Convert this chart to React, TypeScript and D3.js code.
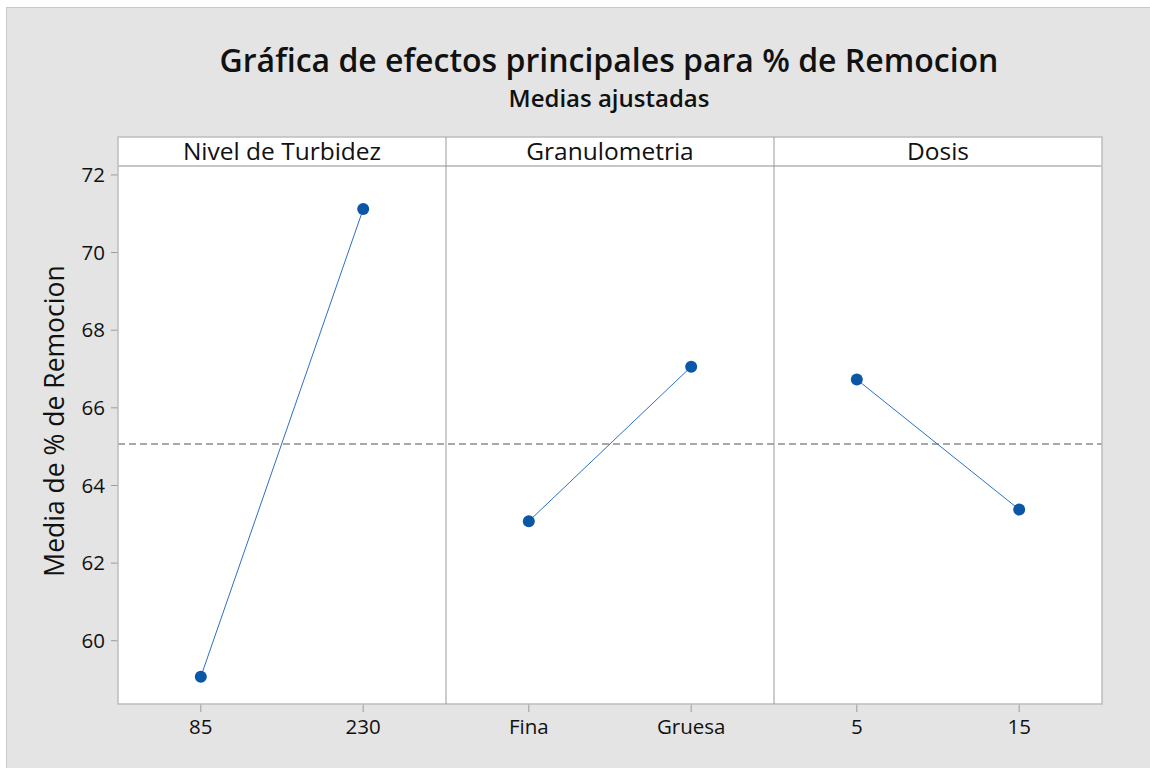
import React from "react";
import * as d3 from "d3";

const title = "Gráfica de efectos principales para % de Remocion";
const subtitle = "Medias ajustadas";
const yLabel = "Media de % de Remocion";
const factors = ["Nivel de Turbidez", "Granulometria", "Dosis"];
const levels = [["85", "230"], ["Fina", "Gruesa"], ["5", "15"]];
const means = [[59.07, 71.12], [63.08, 67.06], [66.73, 63.38]];
const grandMean = 65.07;
const yTicks = [60, 62, 64, 66, 68, 70, 72];

const W = 1150, H = 768;
const left = 118, right = 1102, stripTop = 137, plotTop = 166, plotBottom = 704;
const font = "'Open Sans', 'Noto Sans', sans-serif";

export default function App() {
  const panelW = (right - left) / factors.length;
  const y = d3.scaleLinear().domain([58.37, 72.23]).range([plotBottom, plotTop]);
  const line = d3.line<[number, number]>().x(d => d[0]).y(d => d[1]);
  return (
    <svg width={W} height={H} style={{ position: "absolute", left: 0, top: 0 }} fontFamily={font}>
      <rect x={0} y={0} width={W} height={H} fill="#fff" />
      <rect x={6.5} y={7.5} width={W} height={H} fill="#e4e4e4" stroke="#c9c9c9" strokeWidth={1} />
      <text x={609} y={72} textAnchor="middle" fontSize={32} fontWeight={600} fill="#111">{title}</text>
      <text x={609} y={107} textAnchor="middle" fontSize={24} fontWeight={600} fill="#111">{subtitle}</text>
      <text transform={`translate(64,421) rotate(-90)`} textAnchor="middle" fontSize={26.5} fontWeight={500} fill="#111">{yLabel}</text>
      {yTicks.map(t => (
        <g key={t}>
          <line x1={111} x2={118} y1={y(t)} y2={y(t)} stroke="#9a9a9a" strokeWidth={1} />
          <text x={105} y={y(t)} dy="0.35em" textAnchor="end" fontSize={20.5} fontWeight={500} fill="#111">{t}</text>
        </g>
      ))}
      {factors.map((f, i) => {
        const x0 = left + i * panelW;
        const x = d3.scalePoint().domain(levels[i]).range([x0, x0 + panelW]).padding(0.51);
        return (
          <g key={f}>
            <rect x={x0} y={stripTop} width={panelW} height={plotBottom - stripTop} fill="#fff" />
            <text x={x0 + panelW / 2} y={(stripTop + plotTop) / 2} dy="0.36em" textAnchor="middle" fontSize={24.5} fontWeight={500} fill="#111">{f}</text>
            {levels[i].map(l => (
              <g key={l}>
                <line x1={x(l)} x2={x(l)} y1={plotBottom} y2={plotBottom + 8} stroke="#9a9a9a" strokeWidth={1} />
                <text x={x(l)} y={727} dy="0.35em" textAnchor="middle" fontSize={20.5} fontWeight={500} fill="#111">{l}</text>
              </g>
            ))}
          </g>
        );
      })}
      <line x1={left} x2={right} y1={y(grandMean)} y2={y(grandMean)} stroke="#8c8c8c" strokeWidth={1.5} strokeDasharray="7,4" />
      {factors.map((f, i) => {
        const x0 = left + i * panelW;
        const x = d3.scalePoint().domain(levels[i]).range([x0, x0 + panelW]).padding(0.51);
        const pts: [number, number][] = levels[i].map((l, j) => [x(l)!, y(means[i][j])]);
        return (
          <g key={f + "d"}>
            <path d={line(pts)!} fill="none" stroke="#2e6fc4" strokeWidth={1} />
            {pts.map((p, j) => <circle key={j} cx={p[0]} cy={p[1]} r={6} fill="#0a57a8" />)}
          </g>
        );
      })}
      <rect x={left} y={stripTop} width={right - left} height={plotBottom - stripTop} fill="none" stroke="#bdbdbd" strokeWidth={1.5} />
      <line x1={left} x2={right} y1={plotTop} y2={plotTop} stroke="#c6c6c6" strokeWidth={2} />
      {[1, 2].map(k => (
        <line key={k} x1={left + k * panelW} x2={left + k * panelW} y1={stripTop} y2={plotBottom} stroke="#9a9a9a" strokeWidth={1} />
      ))}
    </svg>
  );
}
